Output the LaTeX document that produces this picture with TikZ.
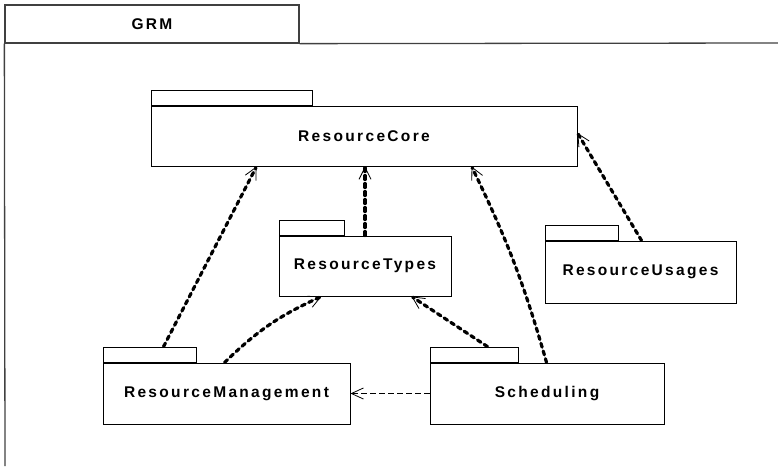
\documentclass[tikz,border=0pt]{standalone}
\usepackage{fontspec}
\setmainfont{Liberation Sans}
\newfontfamily\pkgfont[LetterSpace=15]{Liberation Sans Bold}
\usetikzlibrary{arrows.meta}
\begin{document}
\begin{tikzpicture}[x=1pt,y=-1pt,
    pkg/.style={draw, line width=0.9pt, inner sep=0pt, font=\pkgfont\fontsize{15.5}{17}\selectfont},
    pkgtab/.style={draw, line width=0.9pt, inner sep=0pt, minimum height=15pt, anchor=south west},
    dep/.style={line width=3.2pt, dash pattern=on 4pt off 4pt, line cap=round,
        -{Straight Barb[length=12pt,width=12pt,line width=0.8pt,line cap=butt]}},
    thindep/.style={line width=1.6pt, dash pattern=on 6pt off 3pt,
        -{Straight Barb[length=12pt,width=11pt,line width=0.8pt]}}]
    \useasboundingbox (0,0) rectangle (778,466);
    \node[pkg, minimum width=294pt, minimum height=38pt, draw=black!75, line width=1.3pt] (grm) at (152,24) {GRM};
    \draw[black!75, line width=1.3pt] (grm.south west) -- (5,466);
    \draw[black!75, line width=1.3pt] (grm.south east) -- (778,43);
    \node[pkg, minimum width=426pt, minimum height=60pt] (rc) at (364,136) {ResourceCore};
    \node[pkgtab, minimum width=161pt] (rctab) at (rc.north west) {};
    \node[pkg, minimum width=172pt, minimum height=60pt] (rt) at (365,266) {ResourceTypes};
    \node[pkgtab, minimum width=65pt] (rttab) at (rt.north west) {};
    \node[pkg, minimum width=191pt, minimum height=62pt] (ru) at (640.5,272) {ResourceUsages};
    \node[pkgtab, minimum width=73pt] (rutab) at (ru.north west) {};
    \node[pkg, minimum width=247pt, minimum height=61pt] (rm) at (226.5,393.5) {ResourceManagement};
    \node[pkgtab, minimum width=93pt] (rmtab) at (rm.north west) {};
    \node[pkg, minimum width=234pt, minimum height=61pt] (sch) at (547,393.5) {Scheduling};
    \node[pkgtab, minimum width=88pt] (schtab) at (sch.north west) {};
    \draw[dep] ([xshift=61pt]rmtab.north west) -- ([xshift=106pt]rc.south west);
    \draw[dep] ([xshift=122pt]rm.north west) to[bend left=10] ([xshift=43pt]rt.south west);
    \draw[dep] ([xshift=58pt]schtab.north west) -- ([xshift=133pt]rt.south west);
    \draw[dep] ([xshift=117pt]sch.north west) to[bend right=5] ([xshift=321pt]rc.south west);
    \draw[dep] (rt.north) -- (rt.north |- rc.south);
    \draw[dep] ([xshift=97pt]ru.north west) -- ([yshift=3pt]rc.east);
    \draw[thindep] (sch.west) -- (rm.east);
\end{tikzpicture}
\end{document}
